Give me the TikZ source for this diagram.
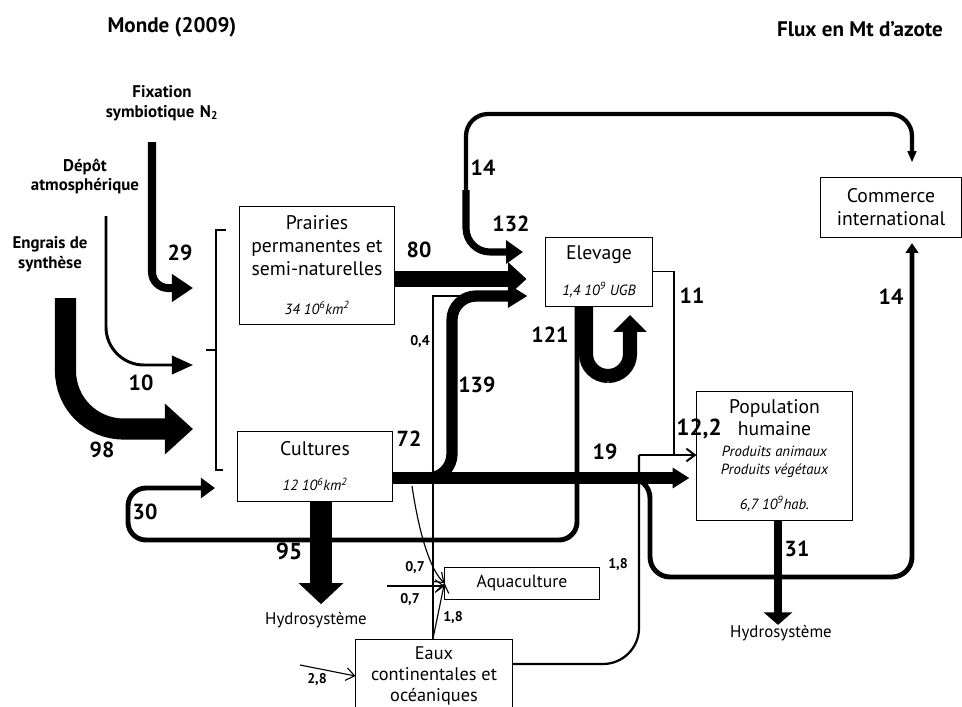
\documentclass[tikz,border=0pt]{standalone}
\usepackage{fontspec}
\setmainfont{PT Sans}
\usetikzlibrary{arrows.meta,positioning}

\newcommand{\surface}[1]{{\fontsize{10.5}{12}\selectfont\itshape #1}}

\tikzset{
  poste/.style={draw, line width=0.7pt, align=center, inner sep=0pt, font=\fontsize{14}{16.5}\selectfont},
  entree/.style={align=center, font=\fontsize{12}{14.2}\selectfont\bfseries},
  titre/.style={font=\fontsize{15}{17}\selectfont\bfseries},
  valeur/.style={inner sep=0pt, font=\fontsize{15.5}{17}\selectfont\bfseries},
  petit/.style={inner sep=0pt, font=\fontsize{10}{11}\selectfont\bfseries},
  milieu/.style={inner sep=0pt, font=\fontsize{12}{14}\selectfont},
  fin/.style={line width=0.8pt, -{Straight Barb[length=6pt,width=9pt]}},
}

\begin{document}
\begin{tikzpicture}[x=0.025cm, y=-0.025cm]
\useasboundingbox (0,0) rectangle (962,706);

% titres
\node[titre] (monde) at (172,27) {Monde (2009)};
\node[titre] (unite) at (860,29) {Flux en Mt d’azote};

% postes
\node[poste, minimum width=3.85cm, minimum height=2.95cm] (prairies) at (317,265)
  {Prairies\\permanentes et\\semi-naturelles\\[11pt]\surface{34 10\textsuperscript{6}km\textsuperscript{2}}};
\node[poste, minimum width=3.85cm, minimum height=1.75cm] (cultures) at (315,466)
  {Cultures\\[9pt]\surface{12 10\textsuperscript{6}km\textsuperscript{2}}};
\node[poste, minimum width=2.65cm, minimum height=1.725cm] (elevage) at (599,271.5)
  {Elevage\\[9.5pt]\surface{1,4 10\textsuperscript{9} UGB}};
\node[poste, minimum width=3.875cm, minimum height=3.225cm] (population) at (774.5,455.5)
  {Population\\[-1pt]humaine\\[-1pt]\surface{Produits animaux}\\[-3.7pt]\surface{Produits végétaux}\\[8pt]\surface{6,7 10\textsuperscript{9}hab.}};
\node[poste, minimum width=3.5cm, minimum height=1.5cm] (commerce) at (891,207) {Commerce\\international};
\node[poste, minimum width=3.85cm, minimum height=0.8cm, font=\fontsize{12.5}{14}\selectfont] (aquaculture) at (522,583) {Aquaculture};
\node[poste, minimum width=3.9cm, minimum height=1.85cm, font=\fontsize{13}{15.2}\selectfont] (eaux) at (434,676)
  {Eaux\\continentales et\\océaniques};
\node[milieu] (hydroG) at (316,620) {Hydrosystème};
\node[milieu] (hydroD) at (781,633) {Hydrosystème};

% entrees
\node[entree] (fixation) at (162,103) {Fixation\\symbiotique\,\,N\textsubscript{2}};
\node[entree] (depot) at (85,176.5) {Dépôt\\atmosphérique};
\node[entree] (engrais) at (50,254.5) {Engrais de\\synthèse};

\coordinate (f29) at (152,142);
\coordinate (f10) at (106,216);
\coordinate (f98) at (65.5,298);
\coordinate (a29) at (193,288);
\coordinate (a10) at (193,365);
\coordinate (a98) at (193,429);

\draw[line width=5.7pt, rounded corners=0.4cm, -{Triangle[width=19pt,length=15pt]}] (f29) |- (a29);
\draw[line width=2.1pt, rounded corners=0.95cm, -{Triangle[width=13pt,length=15pt]}] (f10) |- (a10);
\draw[line width=15pt, rounded corners=1.45cm, -{Triangle[width=35pt,length=20pt]}] (f98) |- (a98);

% accolade
\draw[line width=1.5pt] (226,230) -- (216,230) -- (216,470) -- (223,470) (216,350) -- (206,350);

% flux vers l'elevage
\draw[line width=12pt, -{Triangle[width=23pt,length=13pt]}, shorten >=13.5pt] (prairies.east |- 0,279) -- (elevage.west |- 0,279);

\coordinate (depart14) at (466,190);
\draw[line width=5pt, rounded corners=0.6cm, -{Triangle[width=16pt,length=12pt]}, shorten >=16pt] (depart14) |- (elevage.west |- 0,252);
\draw[line width=3pt, rounded corners=0.55cm, -{Triangle[width=6pt,length=8pt]}, shorten >=10pt] (depart14) |- (912,114) -- (commerce.north -| 912,0);

% recyclage 30 vers les cultures
\draw[line width=3.5pt, rounded corners=0.45cm, -{Triangle[width=14pt,length=10pt]}, shorten >=16pt] (elevage.south -| 577,0) |- (128,540) |- (cultures.west |- 0,488);

% fuites
\draw[line width=15.5pt, -{Triangle[width=31pt,length=15pt]}, shorten >=5.5pt] (cultures.south -| 321,0) -- (hydroG.north -| 321,0);

% sorties des cultures
\coordinate (depart14b) at (625,478);
\draw[line width=3.5pt, rounded corners=0.5cm, -{Triangle[width=9pt,length=7pt]}, shorten >=4pt] (depart14b) -| (650,577) -| (commerce.south -| 912,0);
\draw[line width=5.5pt, -{Triangle[width=20pt,length=9pt]}] (population.south -| 778,0) -- (hydroD.north -| 778,0);

\draw[line width=8pt, rounded corners=0.6cm, -{Triangle[width=16pt,length=14pt]}, shorten >=12.8pt] (cultures.east |- 0,478) -| (452,296) -- (elevage.west |- 0,296);
\draw[line width=8pt, -{Triangle[width=14pt,length=12pt]}, shorten >=5pt] (cultures.east |- 0,478) -- (population.west |- 0,478);

% boucle 121
\draw[line width=10pt, rounded corners=0.55cm, -{Triangle[width=23pt,length=12pt]}, shorten >=6pt] (elevage.south -| 586,0) |- (630,376) -- (elevage.south -| 630,0);

% flux fins
\coordinate (jonction) at (674,455);
\coordinate (coude18) at (639,455);
\draw[fin, line width=1.4pt] (elevage.east) -| (jonction) -- (population.west |- jonction);
\draw[line width=1.6pt, rounded corners=0.9cm] (eaux.east |- 0,664) -| (coude18);
\draw[line width=1.6pt] (coude18) -- (jonction);

\coordinate (fusion) at (463,296);
\draw[line width=0.8pt] (eaux.north -| 433,0) |- (fusion);

\coordinate (depart07) at (412,486);
\coordinate (entree07) at (387,586);
\coordinate (entree28) at (300,665);
\draw[fin] (depart07) .. controls (420,540) and (432,572) .. (aquaculture.west);
\draw[fin] (entree07) -- (aquaculture.west |- entree07);
\draw[fin] (eaux.north -| 433,0) -- (aquaculture.west);
\draw[fin] (entree28) -- (eaux.west);

% valeurs
\node[valeur] (v29) at (180,253) {29};
\node[valeur] (v10) at (141,383) {10};
\node[valeur] (v98) at (102,450) {98};
\node[valeur] (v80) at (419,250) {80};
\node[valeur] (v132) at (511,224) {132};
\node[valeur] (v14h) at (483,168) {14};
\node[valeur, anchor=west] (v139) at (458,385) {139};
\node[valeur] (v121) at (550,335) {121};
\node[valeur] (v11) at (692,296) {11};
\node[valeur, font=\fontsize{16.5}{18}\selectfont\bfseries] (v122) at (699,429) {12,2};
\node[valeur] (v72) at (409,439) {72};
\node[valeur] (v19) at (605,452) {19};
\node[valeur] (v14d) at (891,297) {14};
\node[valeur] (v30) at (145,512) {30};
\node[valeur, font=\fontsize{16.5}{18}\selectfont\bfseries] (v95) at (289,551) {95};
\node[valeur] (v31) at (797,549) {31};
\node[petit] (v04) at (420,342) {0,4};
\node[petit] (v07a) at (415,568) {0,7};
\node[petit] (v07b) at (410,600) {0,7};
\node[petit] (v18a) at (453,618) {1,8};
\node[petit] (v18b) at (618,565) {1,8};
\node[petit] (v28) at (317,680) {2,8};
\end{tikzpicture}
\end{document}
